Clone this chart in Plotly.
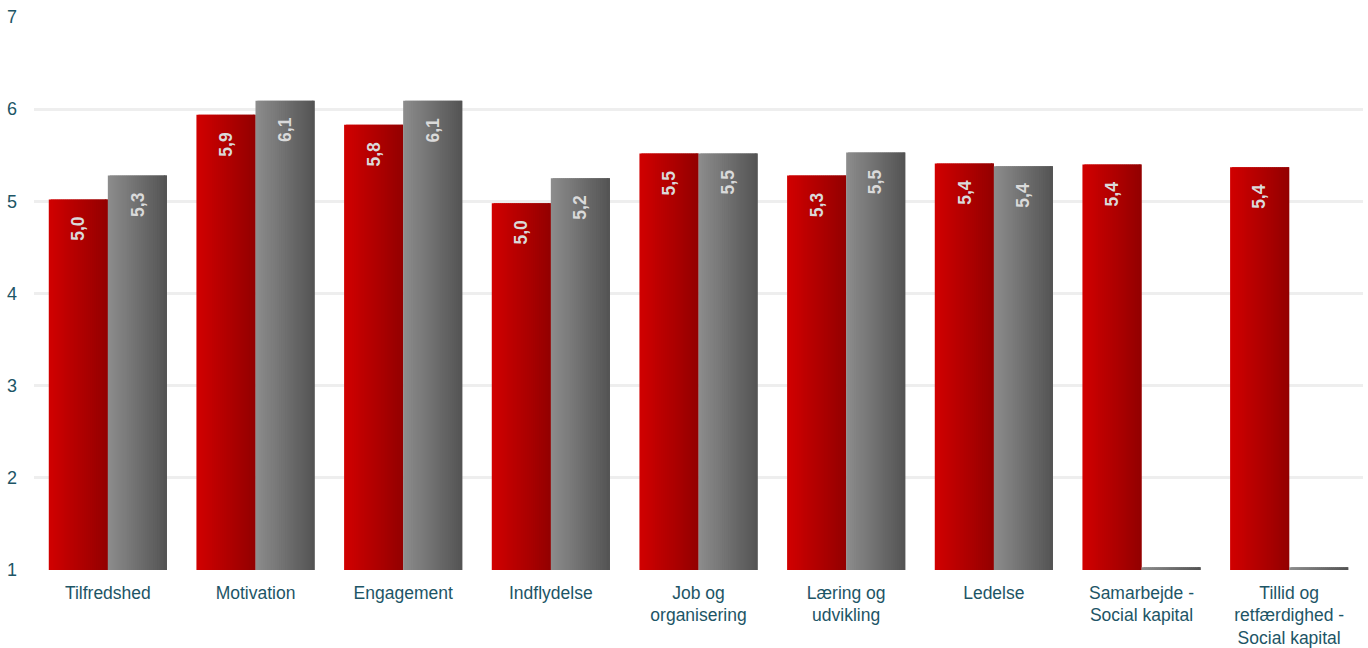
import plotly.graph_objects as go

# Survey dimensions and average scores (scale 1-7)
categories = [
    "Tilfredshed", "Motivation", "Engagement", "Indflydelse",
    "Job og<br>organisering", "Læring og<br>udvikling", "Ledelse",
    "Samarbejde -<br>Social kapital", "Tillid og<br>retfærdighed -<br>Social kapital",
]
red_values = [5.02, 5.94, 5.83, 4.98, 5.52, 5.28, 5.41, 5.40, 5.37]
gray_values = [5.28, 6.09, 6.09, 5.25, 5.52, 5.53, 5.38, 1.03, 1.03]
gray_labels_shown = [True, True, True, True, True, True, True, False, False]
red_labels_shown = [True] * len(red_values)

y_ticks = [1, 2, 3, 4, 5, 6, 7]

x_pos = list(range(len(categories)))
BAR_W = 0.4
N_SLICES = 30


def lerp(c1, c2, t):
    return "rgb({},{},{})".format(*[round(a + (b - a) * t) for a, b in zip(c1, c2)])


def fmt(v):
    return f"{v:.1f}".replace(".", ",")


fig = go.Figure()


def add_gradient_series(values, start_offset, c_left, c_right, show):
    # horizontal gradient built from thin overlapping slices
    sw = BAR_W / N_SLICES
    for k in range(N_SLICES):
        t = k / (N_SLICES - 1)
        w = sw * 2 if k < N_SLICES - 1 else sw
        fig.add_trace(go.Bar(
            x=x_pos, y=values,
            offset=start_offset + k * sw, width=w,
            marker=dict(color=lerp(c_left, c_right, t), line=dict(width=0)),
            hoverinfo="skip", showlegend=False,
        ))
    # value labels near the top of each bar
    for xi, v, s in zip(x_pos, values, show):
        if not s:
            continue
        fig.add_annotation(
            x=xi + start_offset + BAR_W / 2, y=v, xref="x", yref="y",
            text=fmt(v), showarrow=False, textangle=-90,
            xanchor="center", yanchor="middle", yshift=-29,
            font=dict(family="Liberation Sans, Arial", size=17.5, color="#dadada",
                      weight="bold"),
        )


add_gradient_series(red_values, -BAR_W, (208, 0, 0), (148, 0, 0), red_labels_shown)
add_gradient_series(gray_values, 0.0, (140, 140, 140), (84, 84, 84), gray_labels_shown)

fig.update_layout(
    width=1368, height=648,
    margin=dict(l=34, r=5, t=17, b=78),
    barmode="overlay",
    plot_bgcolor="white", paper_bgcolor="white",
    font=dict(family="Liberation Sans, Arial", color="#1d5566", size=17),
)
fig.update_xaxes(
    tickmode="array", tickvals=x_pos, ticktext=categories,
    range=[-0.5, len(categories) - 0.5], automargin=False,
    showgrid=False, zeroline=False, showline=False, ticks="",
    tickfont=dict(size=17.5, color="#1d5566"), ticklabelstandoff=10,
)
fig.update_yaxes(
    range=[1, 7], tickvals=y_ticks, automargin=False,
    showgrid=True, gridcolor="#eeeeee", gridwidth=2.5,
    zeroline=False, showline=False, ticks="",
    tickfont=dict(size=18, color="#1d5566"), ticklabelstandoff=16,
)

fig.write_html("out.html")
